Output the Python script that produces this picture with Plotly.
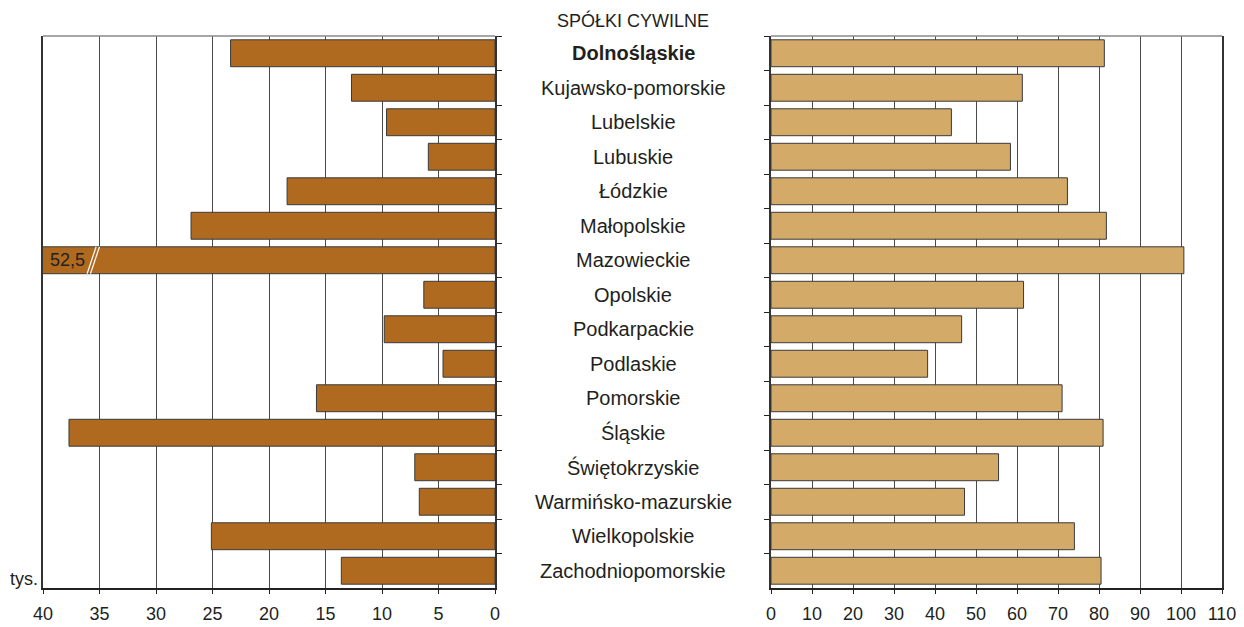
import plotly.graph_objects as go
from plotly.subplots import make_subplots

regions = ["Dolnośląskie", "Kujawsko-pomorskie", "Lubelskie", "Lubuskie", "Łódzkie",
           "Małopolskie", "Mazowieckie", "Opolskie", "Podkarpackie", "Podlaskie",
           "Pomorskie", "Śląskie", "Świętokrzyskie", "Warmińsko-mazurskie",
           "Wielkopolskie", "Zachodniopomorskie"]
left_values = [23.4, 12.7, 9.6, 5.9, 18.4, 26.9, 52.5, 6.3, 9.8, 4.6,
               15.8, 37.7, 7.1, 6.7, 25.1, 13.6]
right_values = [81.3, 61.3, 44.0, 58.4, 72.3, 81.8, 100.7, 61.6, 46.5, 38.2,
                71.0, 81.0, 55.5, 47.2, 74.0, 80.5]
left_ticks = [40, 35, 30, 25, 20, 15, 10, 5, 0]
right_ticks = [0, 10, 20, 30, 40, 50, 60, 70, 80, 90, 100, 110]
title_text = "SPÓŁKI CYWILNE"
unit_text = "tys."
broken_label = "52,5"
left_max = 40

# page body has an 8px margin: figure occupies 8..1244 x 8..627
OFF = 8
W, H = 1244 - OFF, 627 - OFF
FONT = "Liberation Sans, Arial, sans-serif"
TXT = "#231f20"

def px(x):
    return (x - OFF) / W

top, bottom = 36 - OFF, 588 - OFF

def py(y):
    return 1 - (y - OFF - top) / (bottom - top)

fig = make_subplots(rows=1, cols=2)

fig.add_trace(go.Bar(y=regions, x=left_values, orientation="h",
                     marker=dict(color="#B06A20", line=dict(color="#3a3a3a", width=1)),
                     width=0.78, showlegend=False, hoverinfo="x+y"), row=1, col=1)
fig.add_trace(go.Bar(y=regions, x=right_values, orientation="h",
                     marker=dict(color="#D4AA68", line=dict(color="#3a3a3a", width=1)),
                     width=0.78, showlegend=False, hoverinfo="x+y"), row=1, col=2)

ax_common = dict(showgrid=True, gridcolor="#4a4a4a", gridwidth=1, zeroline=False,
                 showline=True, linecolor="#222222", linewidth=1.5, mirror=False,
                 ticks="outside", ticklen=4, tickcolor="#222222", automargin=False,
                 ticklabelstandoff=5,
                 tickfont=dict(family=FONT, size=18, color=TXT))
fig.update_xaxes(range=[left_max, 0], tickvals=left_ticks,
                 domain=[px(43), px(495)], row=1, col=1, **ax_common)
fig.update_xaxes(range=[0, 110], tickvals=right_ticks,
                 domain=[px(771), px(1222)], row=1, col=2, **ax_common)

ya = dict(autorange="reversed", showticklabels=False, showgrid=False, zeroline=False,
          ticks="outside", tickson="boundaries", ticklen=5, tickcolor="#222222",
          showline=True, linecolor="#333333", linewidth=1.5, mirror=True,
          automargin=False, domain=[0, 1])
fig.update_yaxes(side="right", row=1, col=1, **ya)
fig.update_yaxes(side="left", row=1, col=2, **ya)

annotations = []
for r in regions:
    label = f"<b>{r}</b>" if r == "Dolnośląskie" else r
    annotations.append(dict(x=px(633), xref="paper", y=r, yref="y", text=label,
                            showarrow=False, xanchor="center", yanchor="middle",
                            font=dict(family=FONT, size=20, color=TXT)))
annotations.append(dict(x=px(633), xref="paper", y=py(20), yref="paper", text=title_text,
                        showarrow=False, xanchor="center", yanchor="middle",
                        font=dict(family=FONT, size=18, color=TXT)))
annotations.append(dict(x=px(40), xref="paper", y=py(579), yref="paper", text=unit_text,
                        showarrow=False, xanchor="right", yanchor="middle",
                        font=dict(family=FONT, size=18, color=TXT)))
mz = regions.index("Mazowieckie")
annotations.append(dict(x=left_max - 0.4, xref="x", y=mz, yref="y", text=broken_label,
                        showarrow=False, xanchor="left", yanchor="middle",
                        font=dict(family=FONT, size=18, color=TXT)))

shapes = []
for dx in (0.0, 0.3):
    shapes.append(dict(type="line", xref="x", yref="y",
                       x0=36.1 - dx, y0=mz + 0.39, x1=35.3 - dx, y1=mz - 0.39,
                       line=dict(color="white", width=1.2), layer="above"))
for xr in ("x domain", "x2 domain"):
    shapes.append(dict(type="line", xref=xr, yref="paper", x0=0, x1=1, y0=1, y1=1,
                       line=dict(color="#8a8a8a", width=1.5), layer="above"))

fig.update_layout(width=W, height=H, margin=dict(l=0, r=0, t=top, b=H - bottom),
                  plot_bgcolor="white", paper_bgcolor="white",
                  annotations=annotations, shapes=shapes, bargap=0.22)

fig.write_html("out.html")
